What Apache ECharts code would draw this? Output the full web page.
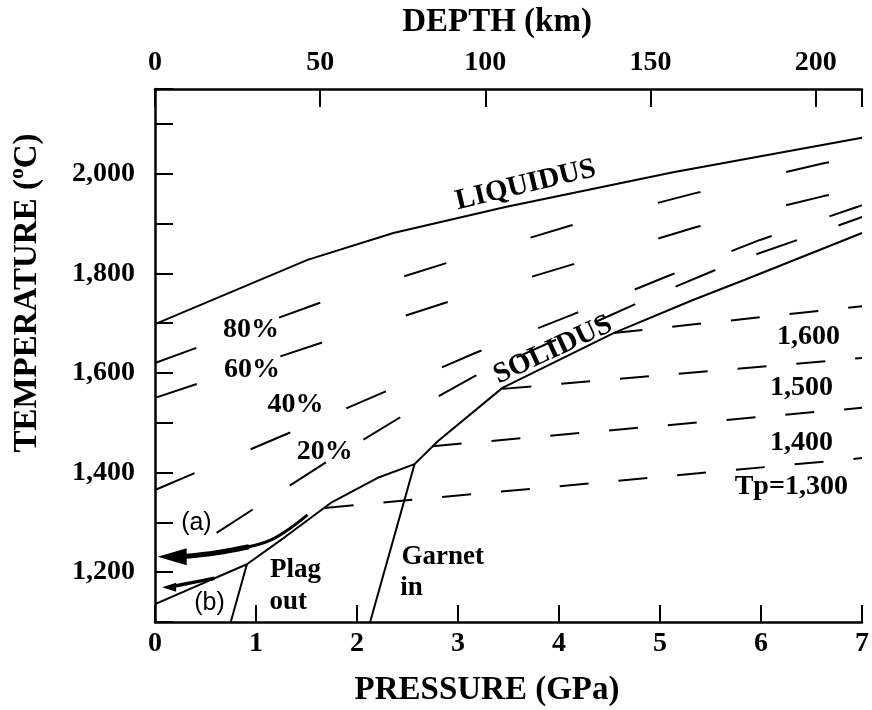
<!DOCTYPE html>
<html>
<head>
<meta charset="utf-8">
<script src="https://cdn.jsdelivr.net/npm/echarts@6/dist/echarts.min.js"></script>
<style>
html,body{margin:0;padding:0;background:#fff;}
#chart{width:872px;height:710px;}
</style>
</head>
<body>
<div id="chart"></div>
<script>
// ---- data (pressure GPa, temperature °C) ----
const liquidus = [[0,1698],[1.51,1827],[2.36,1881],[3.47,1933],[5.13,2003],[7.0,2072]];
const solidus = [[0,1136],[0.91,1216],[1.29,1271],[1.74,1339],[2.20,1389],[2.57,1417],[2.80,1463],[3.44,1570],[4.54,1680],[5.32,1746],[5.84,1787],[7.0,1881]];
const melt80 = [[0,1620],[1.62,1740],[2.86,1819],[4.10,1895],[5.35,1961],[6.62,2021],[7.0,2036]];
const melt60 = [[0,1550],[1.64,1660],[2.86,1740],[4.12,1817],[5.36,1893],[6.62,1955],[7.0,1971]];
const melt40 = [[0,1365],[1.32,1479],[2.25,1560],[3.17,1640],[4.12,1716],[5.06,1793],[5.99,1867],[6.95,1933],[7.0,1937]];
const melt20 = [[0.61,1279],[1.68,1419],[2.42,1510],[3.17,1594],[4.93,1754],[5.74,1823],[6.56,1881],[7.0,1913]];
const tp1300 = [[1.68,1329],[7.0,1429]];
const tp1400 = [[2.75,1453],[7.0,1530]];
const tp1500 = [[3.44,1568],[7.0,1630]];
const tp1600 = [[4.54,1680],[7.0,1734]];
const plagOut = [[0.91,1216],[0.75,1100]];
const garnetIn = [[2.57,1417],[2.13,1100]];
const pathA = [[1.51,1315],[1.19,1269],[0.93,1251],[0.61,1239],[0.31,1232],[0.17,1231]];
const pathAThick = [[0.93,1251],[0.61,1239],[0.31,1232],[0.17,1231]];
const headA = [[0.17,1231]];
const pathB = [[0.59,1188],[0.39,1180],[0.14,1170]];
const headB = [[0.14,1170]];
// tick labels
const pressureTicks = [0,1,2,3,4,5,6,7];
const depthTicks = [0,50,100,150,200];
const tempTicks = [1200,1400,1600,1800,2000];
// annotations
const meltLabels = [['80%',0.95,1686],['60%',0.96,1606],['40%',1.39,1536],['20%',1.68,1441]];
const tpLabels = [['1,600',6.47,1672],['1,500',6.40,1570],['1,400',6.40,1459],['Tp=1,300',6.30,1371]];
const phaseLabels = [['Plag',1.39,1204],['out',1.32,1140],['Garnet',2.85,1230],['in',2.54,1168]];
const pathLabels = [['(a)',0.41,1299],['(b)',0.54,1138]];
const liquidusLabel = [['LIQUIDUS',3.67,1977]];
const solidusLabel = [['SOLIDUS',3.94,1646]];

const SERIF = '"Liberation Serif","Times New Roman",serif';
const SANS = '"Liberation Sans",Arial,sans-serif';
const black = '#000';

function lineSeries(data, width, dash, smooth) {
  return {
    type: 'line', data: data, showSymbol: false, symbol: 'none', silent: true,
    animation: false, z: 3, smooth: smooth ? 0.4 : false,
    lineStyle: {color: black, width: width, type: dash || 'solid', dashOffset: 0, cap: 'butt', opacity: 1}
  };
}
function textSeries(items, fontSize, family, rotate, weight) {
  return {
    type: 'scatter', symbolSize: 0, silent: true, animation: false, z: 5,
    itemStyle: {opacity: 1, color: black},
    data: items.map(d => ({name: d[0], value: [d[1], d[2]]})),
    label: {show: true, position: 'inside', formatter: p => p.name, color: black, opacity: 1,
      textBorderWidth: 0,
      fontFamily: family, fontWeight: weight || 'bold', fontSize: fontSize, rotate: rotate || 0}
  };
}

const chart = echarts.init(document.getElementById('chart'), null, {renderer: 'canvas'});
const option = {
  backgroundColor: '#fff',
  animation: false,
  grid: {left: 155, top: 89, right: 0, bottom: 88, containLabel: false},
  xAxis: [{
    type: 'value', position: 'bottom', min: 0, max: 7, interval: 1,
    axisLine: {show: true, lineStyle: {color: black, width: 2.5}},
    axisTick: {show: true, inside: true, length: 17, lineStyle: {color: black, width: 2}},
    axisLabel: {color: black, fontFamily: SERIF, fontWeight: 'bold', fontSize: 28, margin: 8,
      formatter: v => pressureTicks.includes(v) ? String(v) : ''},
    splitLine: {show: false}
  }, {
    type: 'value', position: 'top', min: 0, max: 214, interval: 50,
    axisLine: {show: true, lineStyle: {color: black, width: 2.5}},
    axisTick: {show: true, inside: true, length: 18, lineStyle: {color: black, width: 2}},
    axisLabel: {color: black, fontFamily: SERIF, fontWeight: 'bold', fontSize: 28, margin: 12,
      formatter: v => depthTicks.includes(v) ? String(v) : ''},
    splitLine: {show: false}
  }],
  yAxis: [{
    type: 'value', min: 1100, max: 2170, interval: 100,
    axisLine: {show: true, lineStyle: {color: black, width: 2.5}},
    axisTick: {show: true, inside: true, length: 18, lineStyle: {color: black, width: 2}},
    axisLabel: {color: black, fontFamily: SERIF, fontWeight: 'bold', fontSize: 28, margin: 20,
      formatter: v => tempTicks.includes(v) ? v.toLocaleString('en-US') : ''},
    splitLine: {show: false}
  }],
  graphic: [
    {type: 'text', x: 497, y: 22, style: {text: 'DEPTH (km)', fill: black,
      font: 'bold 33px ' + SERIF, textAlign: 'center', textVerticalAlign: 'middle'}},
    {type: 'text', x: 487, y: 690, style: {text: 'PRESSURE (GPa)', fill: black,
      font: 'bold 33px ' + SERIF, textAlign: 'center', textVerticalAlign: 'middle'}},
    {type: 'text', x: 27, y: 293, rotation: Math.PI / 2, style: {text: 'TEMPERATURE (\u00BAC)', fill: black,
      font: 'bold 33px ' + SERIF, textAlign: 'center', textVerticalAlign: 'middle'}}
  ],
  series: [
    lineSeries(liquidus, 2),
    lineSeries(solidus, 2),
    lineSeries(melt80, 2, [44, 88]),
    lineSeries(melt60, 2, [44, 88]),
    lineSeries(melt40, 2, [43, 61]),
    lineSeries(melt20, 2, [43, 44]),
    lineSeries(tp1300, 2, [29, 30]),
    lineSeries(tp1400, 2, [29, 30]),
    lineSeries(tp1500, 2, [29, 30]),
    lineSeries(tp1600, 2, [29, 30]),
    lineSeries(plagOut, 2),
    lineSeries(garnetIn, 2),
    lineSeries(pathA, 3, null, true),
    lineSeries(pathAThick, 5, null, true),
    lineSeries(pathB, 3.5, null, true),
    {type: 'scatter', data: headA, symbol: 'triangle', symbolSize: [17, 29], symbolRotate: 90,
      itemStyle: {color: black, opacity: 1}, silent: true, animation: false, z: 4},
    {type: 'scatter', data: headB, symbol: 'triangle', symbolSize: [9, 14], symbolRotate: 90,
      itemStyle: {color: black, opacity: 1}, silent: true, animation: false, z: 4},
    textSeries(meltLabels, 28, SERIF),
    textSeries(tpLabels, 28, SERIF),
    textSeries(phaseLabels, 27, SERIF),
    textSeries(pathLabels, 25, SANS, 0, 'normal'),
    textSeries(liquidusLabel, 29, SERIF, 13.5),
    textSeries(solidusLabel, 29, SERIF, 25)
  ]
};
chart.setOption(option);
</script>
</body>
</html>
